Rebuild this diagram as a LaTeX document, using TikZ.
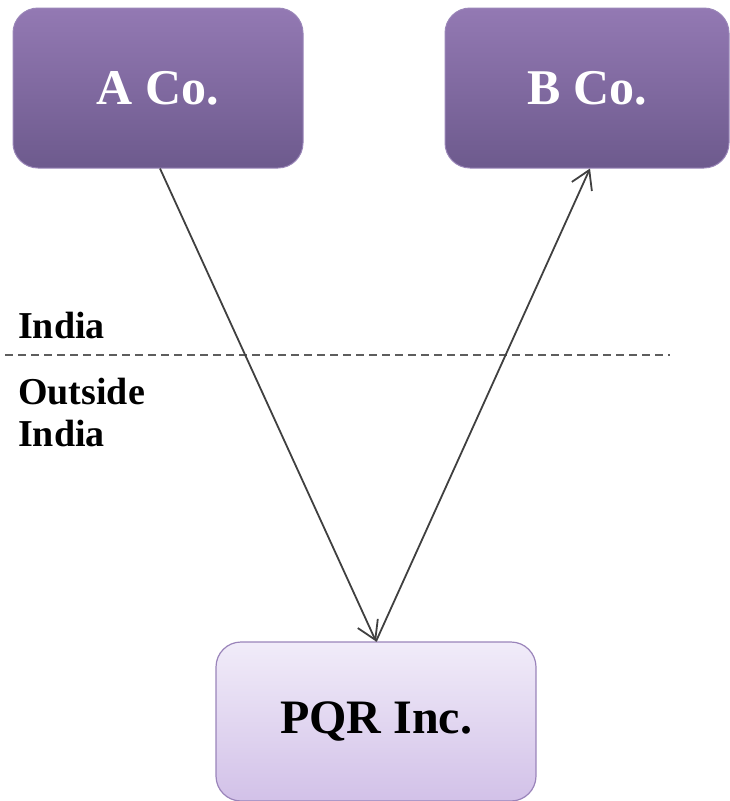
\documentclass[tikz,border=0pt]{standalone}
\usepackage{fontspec}
\setmainfont{Liberation Serif}
\usetikzlibrary{arrows.meta}
\definecolor{coTop}{HTML}{9379B3}
\definecolor{coBot}{HTML}{6D5A8D}
\definecolor{coEdge}{HTML}{9A86B8}
\definecolor{inTop}{HTML}{F1ECF9}
\definecolor{inBot}{HTML}{D2C1E8}
\definecolor{inEdge}{HTML}{9A84BA}
\definecolor{linkgray}{HTML}{404040}
\tikzset{
  company/.style={draw=coEdge, line width=1pt, rounded corners=25pt,
    top color=coTop, bottom color=coBot, text=white,
    font=\bfseries\fontsize{50}{60}\selectfont, inner sep=0pt},
  inc/.style={draw=inEdge, line width=1.2pt, rounded corners=25pt,
    top color=inTop, bottom color=inBot, text=black,
    font=\bfseries\fontsize{48}{58}\selectfont, inner sep=0pt},
  flow/.style={draw=linkgray, line width=1.8pt,
    -{Straight Barb[length=18pt,width=22pt,line width=1.8pt]}},
  border/.style={draw=linkgray!85, line width=1.4pt, dash pattern=on 8pt off 5pt},
  region/.style={font=\bfseries\fontsize{38}{46}\selectfont, anchor=west,
    align=left, inner sep=0pt}
}
\begin{document}
\begin{tikzpicture}[x=1pt,y=-1pt]
  \useasboundingbox (0,0) rectangle (729,801);
  % companies in India
  \node[company, minimum width=290pt, minimum height=160pt] (A) at (158,88) {A Co.};
  \node[company, minimum width=284pt, minimum height=160pt] (B) at (587,88) {B Co.};
  % foreign company
  \node[inc, minimum width=320pt, minimum height=159pt] (P) at (376,721.5) {PQR Inc.};
  % jurisdiction boundary
  \coordinate (L) at (5,355);
  \coordinate (R) at (670,355);
  \draw[border] (L) -- (R);
  \node[region] (india) at (18,325) {India};
  \node[region, text depth=0pt] (outside) at (18,412) {Outside\\[-4pt]India};
  % flows
  \draw[flow] ([xshift=2pt]A.south) -- (P.north);
  \draw[flow] (P.north) -- ([xshift=3pt]B.south);
\end{tikzpicture}
\end{document}
